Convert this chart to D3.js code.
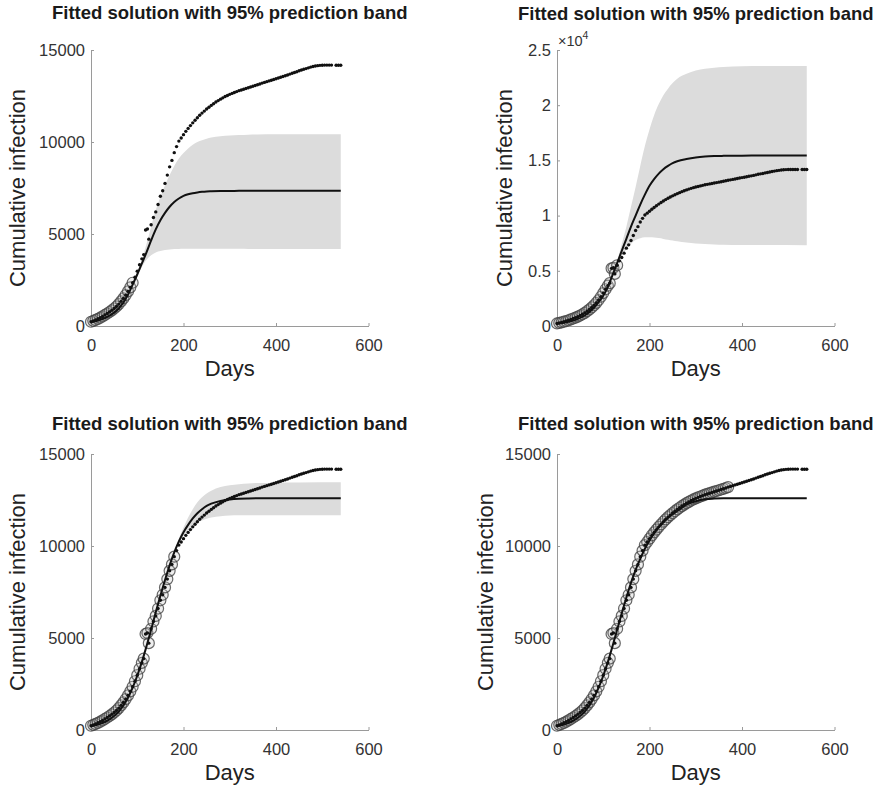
<!DOCTYPE html>
<html>
<head>
<meta charset="utf-8">
<script src="https://cdn.jsdelivr.net/npm/d3@7"></script>
<style>
	body { margin: 0; background: #fff; }
	svg { display: block; }
	text { font-family: Arial, "Liberation Sans", Helvetica, sans-serif; }
</style>
</head>
<body>
<svg id="chart" width="880" height="787"></svg>
<script>
// observed cumulative infections (same in all four panels)
const obsDays = [0, 5, 10, 15, 20, 25, 30, 35, 40, 45, 50, 55, 60, 65, 70, 75, 80, 85, 90, 95,
	100, 105, 110, 114, 118, 122, 125, 130, 135, 140, 145, 150, 155, 160, 165, 170, 175, 180, 185, 190, 195,
	200, 205, 210, 215, 220, 225, 230, 235, 240, 245, 250, 255, 260, 265, 270, 275, 280, 285, 290, 295,
	300, 305, 310, 315, 320, 325, 330, 335, 340, 345, 350, 355, 360, 365, 370, 375, 380, 385, 390, 395,
	400, 405, 410, 415, 420, 425, 430, 435, 440, 445, 450, 455, 460, 465, 470, 475, 480, 485, 490, 495,
	500, 505, 510, 515, 520, 530, 535, 540];
const obsCases = [230, 280, 330, 390, 450, 520, 600, 680, 760, 850, 950, 1060, 1190, 1340, 1500, 1680, 1880, 2100, 2350, 2650,
	2980, 3330, 3650, 3880, 5220, 5270, 4720, 5500, 5900, 6200, 6600, 7050, 7350, 7750, 8200, 8650, 9000, 9420, 9750, 10050, 10220,
	10400, 10580, 10740, 10890, 11040, 11180, 11320, 11450, 11570, 11680, 11790, 11890, 11990, 12080, 12170, 12250, 12330, 12400, 12470, 12530,
	12590, 12640, 12690, 12740, 12790, 12830, 12870, 12910, 12950, 12990, 13030, 13070, 13110, 13150, 13200, 13240, 13280, 13320, 13360, 13400,
	13440, 13480, 13520, 13560, 13600, 13640, 13690, 13740, 13780, 13820, 13870, 13910, 13950, 13990, 14030, 14070, 14100, 14130, 14150, 14165,
	14175, 14180, 14180, 14180, 14180, 14170, 14170, 14170];

// fitted solutions and prediction bands, sampled on these days
const fitDays = [0, 20, 40, 60, 80, 90, 100, 110, 120, 130, 140, 150, 160, 170, 180, 190, 200, 210, 220, 230, 240, 250, 260, 280, 300, 320, 340, 360, 400, 450, 540];

const fit1 = [200, 330, 560, 950, 1700, 2250, 2800, 3400, 4000, 4650, 5250, 5750, 6150, 6480, 6740, 6930, 7070, 7160, 7220, 7260, 7290, 7310, 7320, 7335, 7340, 7345, 7348, 7350, 7350, 7350, 7350];
const low1 = [200, 330, 560, 950, 1700, 2250, 2720, 3200, 3600, 3850, 4000, 4080, 4130, 4160, 4180, 4190, 4200, 4200, 4200, 4200, 4200, 4200, 4200, 4200, 4200, 4195, 4190, 4190, 4185, 4180, 4180];
const up1 = [200, 330, 560, 950, 1700, 2250, 2880, 3600, 4450, 5400, 6300, 7000, 7650, 8200, 8700, 9100, 9400, 9650, 9850, 10000, 10100, 10180, 10240, 10310, 10350, 10380, 10400, 10410, 10420, 10420, 10420];

const fit2 = [200, 330, 560, 950, 1650, 2150, 2750, 3550, 4600, 5700, 6800, 7900, 9000, 10000, 11000, 11900, 12700, 13300, 13800, 14200, 14500, 14750, 14920, 15130, 15270, 15350, 15390, 15410, 15430, 15440, 15440];
const low2 = [200, 330, 560, 950, 1650, 2150, 2750, 3550, 4600, 5550, 6300, 6950, 7450, 7780, 7950, 8030, 8050, 8020, 7960, 7890, 7810, 7740, 7670, 7560, 7480, 7430, 7390, 7370, 7340, 7330, 7320];
const up2 = [200, 330, 560, 950, 1650, 2150, 2750, 3550, 4600, 5900, 7400, 9000, 10800, 12600, 14500, 16300, 17800, 19100, 20100, 20900, 21500, 22000, 22400, 22850, 23150, 23300, 23400, 23460, 23520, 23550, 23550];

const fit3 = [200, 330, 580, 1000, 1750, 2300, 2950, 3700, 4550, 5450, 6400, 7300, 8150, 8950, 9650, 10250, 10750, 11150, 11500, 11780, 12000, 12180, 12300, 12450, 12530, 12570, 12585, 12590, 12590, 12590, 12590];
const low3 = [200, 330, 580, 1000, 1750, 2300, 2950, 3700, 4550, 5450, 6400, 7300, 8150, 8950, 9650, 10150, 10550, 10850, 11080, 11250, 11380, 11480, 11550, 11620, 11660, 11670, 11670, 11670, 11670, 11670, 11670];
const up3 = [200, 330, 580, 1000, 1750, 2300, 2950, 3700, 4550, 5450, 6400, 7300, 8150, 8950, 9650, 10400, 11000, 11550, 12000, 12380, 12650, 12850, 13000, 13200, 13300, 13360, 13400, 13420, 13440, 13450, 13460];

const fit4 = [200, 330, 580, 1000, 1750, 2300, 2950, 3700, 4550, 5450, 6350, 7200, 8000, 8700, 9300, 9850, 10300, 10700, 11020, 11300, 11530, 11730, 11900, 12250, 12430, 12540, 12575, 12590, 12595, 12600, 12600];

// last day used for fitting in each panel (circled points)
const fitEnds = [92, 131, 182, 372];

const xTicks = [0, 200, 400, 600];
const yTicks15 = [0, 5000, 10000, 15000];
const yTicks25 = [0, 5000, 10000, 15000, 20000, 25000];

const W = 277.5, H = 276;
const svg = d3.select('#chart');

const panels = [
	{ left: 91, top: 50, yMax: 15000, ticks: yTicks15, fit: fit1, low: low1, up: up1, end: fitEnds[0], titleY: 19, labelX: 25 },
	{ left: 557, top: 50, yMax: 25000, ticks: yTicks25, fit: fit2, low: low2, up: up2, end: fitEnds[1], titleY: 20, labelX: 512, exp: true },
	{ left: 91, top: 454, yMax: 15000, ticks: yTicks15, fit: fit3, low: low3, up: up3, end: fitEnds[2], titleY: 429.5, labelX: 25 },
	{ left: 557, top: 454, yMax: 15000, ticks: yTicks15, fit: fit4, end: fitEnds[3], titleY: 429.5, labelX: 493 }
];

function drawPanel(p) {
	const g = svg.append('g')
		.attr('transform', 'translate(' + p.left + ',' + p.top + ')');

	const x = d3.scaleLinear().domain([0, 600]).range([0, W]);
	const y = d3.scaleLinear().domain([0, p.yMax]).range([H, 0]);

	// band
	if (p.low) {
		const band = fitDays.map((d, i) => [d, p.low[i], p.up[i]]);
		g.append('path')
			.datum(band)
			.attr('fill', '#dcdcdc')
			.attr('d', d3.area()
				.x(d => x(d[0]))
				.y0(d => y(d[1]))
				.y1(d => y(d[2]))
				.curve(d3.curveMonotoneX));
	}

	// axes, ticks pointing inwards like matlab
	const fmt = p.exp ? (d => d3.format('~g')(d / 1e4)) : d3.format('d');
	const yAxis = g.append('g')
		.call(d3.axisLeft(y).tickValues(p.ticks).tickFormat(fmt).tickSize(-3).tickSizeOuter(0).tickPadding(6));
	const xAxis = g.append('g')
		.attr('transform', 'translate(0,' + H + ')')
		.call(d3.axisBottom(x).tickValues(xTicks).tickSize(-3).tickSizeOuter(0).tickPadding(13.5));
	[xAxis, yAxis].forEach(function (a) {
		a.select('.domain').attr('stroke', '#9a9a9a');
		a.selectAll('.tick line').attr('stroke', '#9a9a9a');
		a.selectAll('.tick text')
			.attr('fill', '#333')
			.style('font-size', '16.5px');
	});

	if (p.exp) {
		const e = g.append('text')
			.attr('x', 1)
			.attr('y', -4)
			.attr('fill', '#333')
			.style('font-size', '14.5px')
			.text('\u00d710');
		e.append('tspan')
			.attr('dy', -7)
			.style('font-size', '10.5px')
			.text('4');
	}

	// fitted data (circles)
	const pts = obsDays.map((d, i) => [d, obsCases[i]]);
	g.append('g').selectAll('circle')
		.data(pts.filter(d => d[0] <= p.end))
		.enter().append('circle')
		.attr('cx', d => x(d[0]))
		.attr('cy', d => y(d[1]))
		.attr('r', 5.5)
		.attr('fill', '#bbb')
		.attr('fill-opacity', 0.25)
		.attr('stroke', '#444')
		.attr('stroke-opacity', 0.8)
		.attr('stroke-width', 1.2);

	// observed data (dots)
	g.append('g').selectAll('circle')
		.data(pts)
		.enter().append('circle')
		.attr('cx', d => x(d[0]))
		.attr('cy', d => y(d[1]))
		.attr('r', 1.7)
		.attr('fill', '#111');

	// fitted curve
	g.append('path')
		.datum(fitDays.map((d, i) => [d, p.fit[i]]))
		.attr('fill', 'none')
		.attr('stroke', '#111')
		.attr('stroke-width', 2)
		.attr('d', d3.line()
			.x(d => x(d[0]))
			.y(d => y(d[1]))
			.curve(d3.curveMonotoneX));

	// texts
	svg.append('text')
		.attr('x', p.left + W / 2)
		.attr('y', p.titleY)
		.attr('text-anchor', 'middle')
		.attr('fill', '#1a1a1a')
		.style('font-size', '18.5px')
		.style('font-weight', 'bold')
		.text('Fitted solution with 95% prediction band');

	svg.append('text')
		.attr('x', p.left + W / 2)
		.attr('y', p.top + H + 50)
		.attr('text-anchor', 'middle')
		.attr('fill', '#222')
		.style('font-size', '22px')
		.text('Days');

	svg.append('text')
		.attr('transform', 'translate(' + p.labelX + ',' + (p.top + H / 2) + ') rotate(-90)')
		.attr('text-anchor', 'middle')
		.attr('fill', '#222')
		.style('font-size', '22px')
		.text('Cumulative infection');
}

panels.forEach(drawPanel);
</script>
</body>
</html>
